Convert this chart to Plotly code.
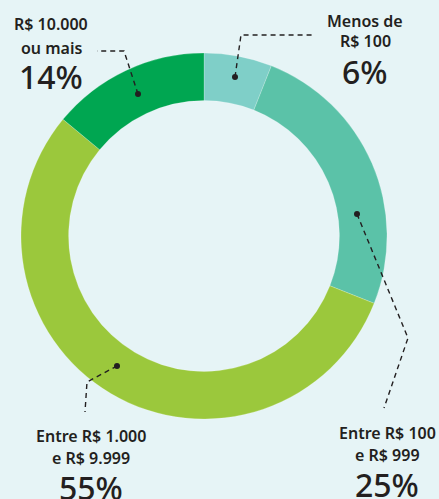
import plotly.graph_objects as go

# Data
categories = ["Menos de R$ 100", "Entre R$ 100 e R$ 999", "Entre R$ 1.000 e R$ 9.999", "R$ 10.000 ou mais"]
label_lines = [["Menos de", "R$ 100"], ["Entre R$ 100", "e R$ 999"], ["Entre R$ 1.000", "e R$ 9.999"], ["R$ 10.000", "ou mais"]]
values = [6, 25, 55, 14]
pct_labels = ["6%", "25%", "55%", "14%"]
colors = ["#7FCFC8", "#5BC2A8", "#9BC83C", "#00A651"]

W, H = 439, 499
BG = "#E6F4F6"
INK = "#231F20"

# donut geometry (pixels)
cx, cy, R = 204, 236, 183

fig = go.Figure()
fig.add_trace(go.Pie(
    labels=categories, values=values, sort=False, direction="clockwise", rotation=0,
    hole=0.74, marker=dict(colors=colors, line=dict(color="rgba(255,255,255,0.35)", width=0.6)),
    textinfo="none", hoverinfo="label+percent", showlegend=False,
    domain=dict(x=[(cx - R) / W, (cx + R) / W], y=[(H - cy - R) / H, (H - cy + R) / H]),
))

# leader lines (pixel coords) per slice: list of points, first is the dot
leaders = [
    [(235, 77), (241, 35), (312, 35)],
    [(357, 214), (408, 338), (384, 408)],
    [(117, 366), (87, 382), (85, 412)],
    [(138, 94), (124, 51), (97, 51)],
]
# label positions: (center x, y line1, y line2, y pct)
label_pos = [
    (365, 21, 41, 71),
    (387, 433, 455, 484),
    (91, 436, 458, 487),
    (51, 24, 48, 76),
]

shapes = []
for pts in leaders:
    path = "M " + " L ".join(f"{x},{y}" for x, y in pts)
    shapes.append(dict(type="path", path=path, xref="x", yref="y",
                       line=dict(color=INK, width=1.4, dash="5px,4px")))
    dx, dy = pts[0]
    shapes.append(dict(type="circle", xref="x", yref="y", x0=dx - 3, x1=dx + 3, y0=dy - 3, y1=dy + 3,
                       fillcolor=INK, line=dict(width=0)))

annotations = []
for lines, pct, (x, y1, y2, yp) in zip(label_lines, pct_labels, label_pos):
    for txt, y in ((lines[0], y1), (lines[1], y2)):
        annotations.append(dict(x=x, y=y, xref="x", yref="y", text=txt, showarrow=False,
                                xanchor="center", yanchor="middle",
                                font=dict(family="Noto Sans", size=16, color=INK, weight=600)))
    annotations.append(dict(x=x, y=yp, xref="x", yref="y", text=pct, showarrow=False,
                            xanchor="center", yanchor="middle",
                            font=dict(family="Noto Sans", size=32, color=INK, weight=500)))

fig.update_layout(
    width=W, height=H, margin=dict(l=0, r=0, t=0, b=0),
    paper_bgcolor=BG, plot_bgcolor="rgba(0,0,0,0)",
    xaxis=dict(range=[0, W], visible=False, fixedrange=True),
    yaxis=dict(range=[H, 0], visible=False, fixedrange=True),
    shapes=shapes, annotations=annotations,
)
fig.write_html("out.html", config={"displayModeBar": False},
               post_script="document.body.style.margin='0';document.body.style.overflow='hidden';")
